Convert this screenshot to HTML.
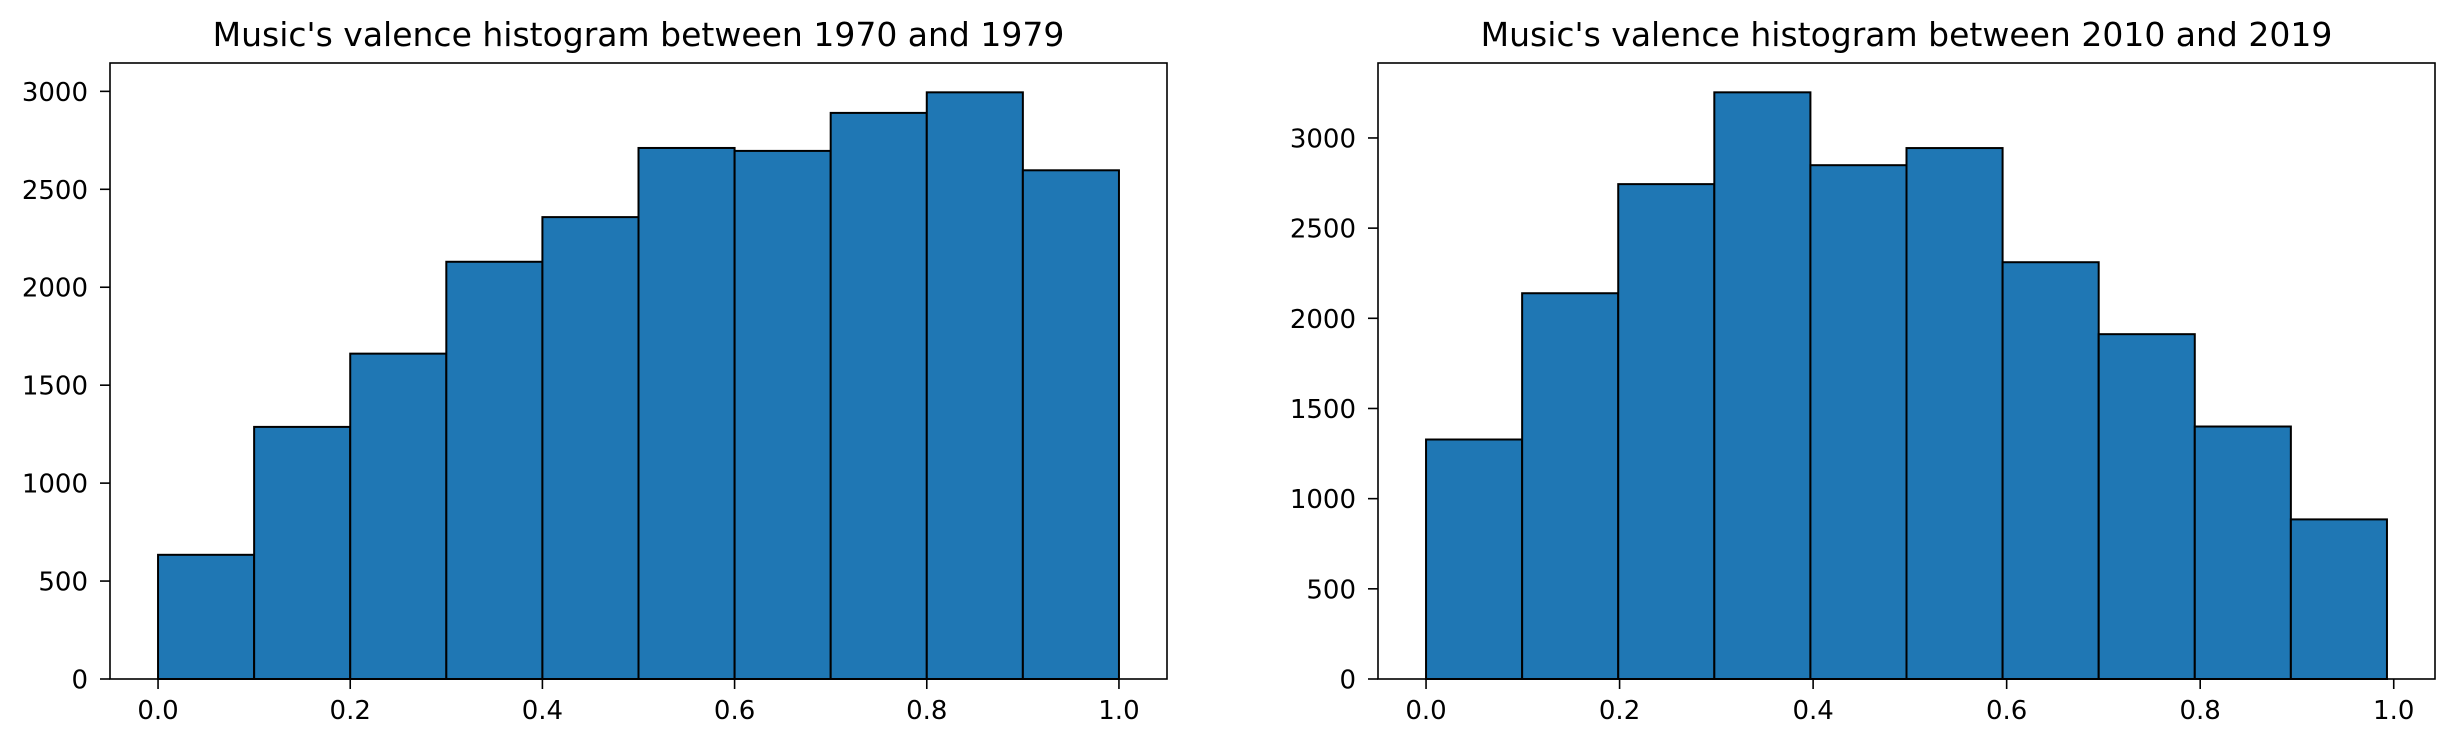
<!DOCTYPE html>
<html><head><meta charset="utf-8"><style>
html,body{margin:0;padding:0;background:#fff;}
svg{display:block;font-family:"DejaVu Sans","Liberation Sans",sans-serif;}
</style></head><body>
<svg id="chart" width="2454" height="746" viewBox="0 0 2454 746" xmlns="http://www.w3.org/2000/svg"></svg>
<script>
const binEdgesLeft = [0,0.1,0.2,0.3,0.4,0.5,0.6,0.7,0.8,0.9,1.0];
const countsLeft = [634,1287,1661,2130,2358,2711,2696,2890,2995,2597];
const binEdgesRight = [0,0.0993,0.1986,0.2979,0.3972,0.4965,0.5958,0.6951,0.7944,0.8937,0.993];
const countsRight = [1328,2139,2744,3253,2849,2944,2311,1912,1400,885];
const xTicks = [0,0.2,0.4,0.6,0.8,1.0];
const xTickLabels = ["0.0","0.2","0.4","0.6","0.8","1.0"];
const yTicksLeft = [0,500,1000,1500,2000,2500,3000];
const yTicksRight = [0,500,1000,1500,2000,2500,3000];
const titleLeft = "Music's valence histogram between 1970 and 1979";
const titleRight = "Music's valence histogram between 2010 and 2019";

const NS="http://www.w3.org/2000/svg";
const svg=document.getElementById('chart');
function mk(tag,attrs,parent){const e=document.createElementNS(NS,tag);for(const k in attrs)e.setAttribute(k,attrs[k]);(parent||svg).appendChild(e);return e;}

function drawPanel(key,box,edges,counts,yTicks,title){
  const g=mk('g',{});
  
  
  const lo=edges[0],hi=edges[edges.length-1],m=(hi-lo)*0.05;
  const xmin=lo-m,xmax=hi+m;
  const ymax=Math.max(...counts)*1.05;
  const X=v=>box.l+(v-xmin)/(xmax-xmin)*(box.r-box.l);
  const Y=v=>box.b-v/ymax*(box.b-box.t);
  for(let i=0;i<counts.length;i++){
    const r=mk('rect',{x:X(edges[i]),y:Y(counts[i]),width:X(edges[i+1])-X(edges[i]),height:Y(0)-Y(counts[i]),fill:'#1f77b4',stroke:'#000','stroke-width':2},g);
    
    
  }
  const frame=mk('rect',{x:box.l,y:box.t,width:box.r-box.l,height:box.b-box.t,fill:'none',stroke:'#000','stroke-width':1.6},g);
  
  
  xTicks.forEach((t,i)=>{
    const x=X(t);
    mk('line',{x1:x,y1:box.b,x2:x,y2:box.b+10,stroke:'#000','stroke-width':1.6},g);
    const tx=mk('text',{x:x,y:box.b+40,'text-anchor':'middle','font-size':26,fill:'#000'},g);
    tx.textContent=xTickLabels[i];
    
    
  });
  yTicks.forEach(t=>{
    const y=Y(t);
    mk('line',{x1:box.l-10,y1:y,x2:box.l,y2:y,stroke:'#000','stroke-width':1.6},g);
    const tx=mk('text',{x:box.l-22,y:y+9.5,'text-anchor':'end','font-size':26,fill:'#000'},g);
    tx.textContent=String(t);
    
    
  });
  const tt=mk('text',{x:(box.l+box.r)/2,y:46,'text-anchor':'middle','font-size':33,fill:'#000'},g);
  tt.textContent=title;
  
  
}
drawPanel('left',{l:110,r:1167,t:63,b:679},binEdgesLeft,countsLeft,yTicksLeft,titleLeft);
drawPanel('right',{l:1378,r:2435,t:63,b:679},binEdgesRight,countsRight,yTicksRight,titleRight);
</script>
</body></html>
